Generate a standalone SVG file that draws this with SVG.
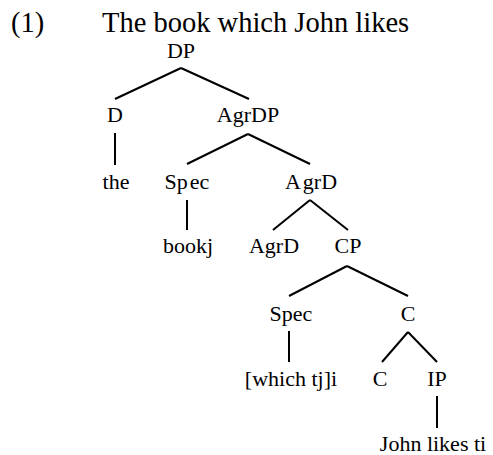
<svg xmlns="http://www.w3.org/2000/svg" width="493" height="455" viewBox="0 0 493 455">
<style>
.t{font-family:"Liberation Serif","Times New Roman",serif;font-size:28.5px;fill:#000}
.n{font-family:"Liberation Serif","Times New Roman",serif;font-size:22px;fill:#000;text-anchor:middle}
.e{stroke:#000;stroke-width:2;fill:none;stroke-linecap:butt}
</style>
<rect width="493" height="455" fill="#fff"/>
<g id="title">
<text class="t" x="11" y="32">(1)</text>
<text class="t" x="102" y="32">The book which John likes</text>
</g>
<g id="connectors">
<line class="e" x1="181" y1="68" x2="115" y2="99"/>
<line class="e" x1="181" y1="68" x2="249" y2="99"/>
<line class="e" x1="115" y1="133" x2="115" y2="165"/>
<line class="e" x1="248" y1="134" x2="187" y2="164"/>
<line class="e" x1="248" y1="134" x2="310" y2="164"/>
<line class="e" x1="187" y1="200" x2="187" y2="230"/>
<line class="e" x1="310" y1="200" x2="273" y2="230"/>
<line class="e" x1="310" y1="200" x2="348" y2="230"/>
<line class="e" x1="347" y1="266" x2="289" y2="296"/>
<line class="e" x1="347" y1="266" x2="408" y2="296"/>
<line class="e" x1="289" y1="331" x2="289" y2="362"/>
<line class="e" x1="408" y1="332" x2="382" y2="362"/>
<line class="e" x1="408" y1="332" x2="437" y2="362"/>
<line class="e" x1="437" y1="396" x2="437" y2="428"/>
</g>
<g id="n-DP"><text class="n" x="181" y="58">DP</text></g>
<g id="n-D"><text class="n" x="115" y="122">D</text></g>
<g id="n-AgrDP"><text class="n" x="248" y="122">AgrDP</text></g>
<g id="n-the"><text class="n" x="116" y="189">the</text></g>
<g id="n-Spec1"><text class="n" x="187" y="189">Sp<tspan dx="2">ec</tspan></text></g>
<g id="n-AgrD1"><text class="n" x="311" y="189">A<tspan dx="2">grD</tspan></text></g>
<g id="n-bookj"><text class="n" x="188" y="253">bookj</text></g>
<g id="n-AgrD2"><text class="n" x="274" y="253">AgrD</text></g>
<g id="n-CP"><text class="n" x="348" y="253">CP</text></g>
<g id="n-Spec2"><text class="n" x="291" y="321">Spec</text></g>
<g id="n-C1"><text class="n" x="408" y="321">C</text></g>
<g id="n-which"><text class="n" x="291" y="386">[which tj]i</text></g>
<g id="n-C2"><text class="n" x="380" y="386">C</text></g>
<g id="n-IP"><text class="n" x="437" y="386">IP</text></g>
<g id="n-John"><text class="n" x="433" y="451">John likes ti</text></g>
</svg>
